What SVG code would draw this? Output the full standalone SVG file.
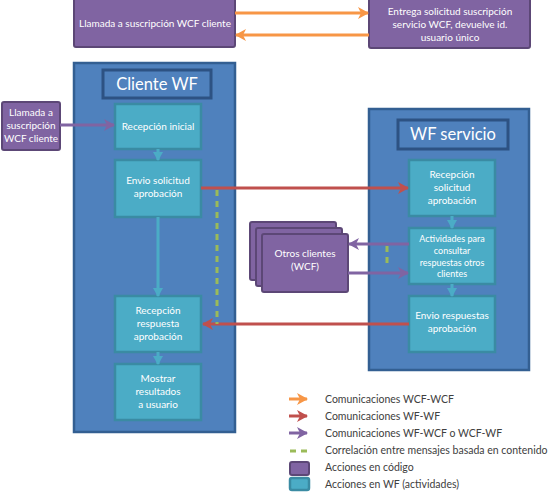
<svg xmlns="http://www.w3.org/2000/svg" width="551" height="492" viewBox="0 0 551 492">
<style>
text{font-family:"Lato","Open Sans","Liberation Sans",sans-serif;text-anchor:middle;fill:#fff;font-size:10px}
.code{fill:#8064a2;stroke:#5c4776;stroke-width:2}
.wf{fill:#4bacc6;stroke:#3a8ba3;stroke-width:2.5}
.big{fill:#4f81bd;stroke:#335f92;stroke-width:2.5}
.title{fill:#4f81bd;stroke:#2d5283;stroke-width:3}
.tt{font-size:16.5px}
.sm{font-size:9px}
.leg{fill:#404040;text-anchor:start;font-size:10.5px}
.c{fill:none;stroke-width:3}
.or{stroke:#f79646}.rd{stroke:#c0504d}.pu{stroke:#8064a2}.bl{stroke:#4bacc6}
.gr{stroke:#9bbb59;stroke-dasharray:6 5}
</style>
<defs>
<marker id="mo" markerUnits="userSpaceOnUse" markerWidth="12" markerHeight="12" refX="10" refY="6" orient="auto"><path d="M0,0 L11,6 L0,12 L3,6 Z" fill="#f79646"/></marker>
<marker id="mr" markerUnits="userSpaceOnUse" markerWidth="12" markerHeight="12" refX="10" refY="6" orient="auto"><path d="M0,0 L11,6 L0,12 L3,6 Z" fill="#c0504d"/></marker>
<marker id="mp" markerUnits="userSpaceOnUse" markerWidth="12" markerHeight="12" refX="10" refY="6" orient="auto"><path d="M0,0 L11,6 L0,12 L3,6 Z" fill="#8064a2"/></marker>
<marker id="mb" markerUnits="userSpaceOnUse" markerWidth="10" markerHeight="10" refX="8" refY="5" orient="auto"><path d="M0,0 L9,5 L0,10 Z" fill="#4bacc6"/></marker>
</defs>

<g id="top-client">
<rect class="code" x="74" y="-2" width="161" height="49" rx="2"/>
<text x="155" y="27">Llamada a suscripción WCF cliente</text>
</g>
<g id="top-service">
<rect class="code" x="369" y="-2" width="161" height="50" rx="2"/>
<text x="450" y="15">Entrega solicitud suscripción</text>
<text x="450" y="28">servicio WCF, devuelve id.</text>
<text x="450" y="41">usuario único</text>
</g>

<g id="cliente-wf">
<rect class="big" x="74" y="63" width="161" height="369"/>
<rect class="title" x="103" y="70" width="108" height="28"/>
<text class="tt" x="157" y="90">Cliente WF</text>
</g>
<g id="wf-servicio">
<rect class="big" x="369" y="109" width="160" height="261"/>
<rect class="title" x="398" y="120" width="110" height="29"/>
<text class="tt" x="453" y="140">WF servicio</text>
</g>

<g id="llamada-left">
<rect class="code" x="2" y="102" width="58" height="48" rx="2"/>
<text x="31" y="116">Llamada a</text>
<text x="31" y="129">suscripción</text>
<text x="31" y="142">WCF cliente</text>
</g>

<g id="recepcion-inicial">
<rect class="wf" x="115" y="104" width="86" height="45"/>
<text x="158" y="130">Recepción inicial</text>
</g>
<g id="envio-solicitud">
<rect class="wf" x="115" y="160" width="86" height="57"/>
<text x="158" y="184">Envio solicitud</text>
<text x="158" y="197">aprobación</text>
</g>
<g id="recepcion-respuesta">
<rect class="wf" x="115" y="296" width="86" height="56"/>
<text x="158" y="314">Recepción</text>
<text x="158" y="327">respuesta</text>
<text x="158" y="340">aprobación</text>
</g>
<g id="mostrar">
<rect class="wf" x="115" y="364" width="86" height="56"/>
<text x="158" y="382">Mostrar</text>
<text x="158" y="395">resultados</text>
<text x="158" y="408">a usuario</text>
</g>

<g id="recepcion-solicitud">
<rect class="wf" x="409" y="160" width="86" height="56"/>
<text x="452" y="178">Recepción</text>
<text x="452" y="191">solicitud</text>
<text x="452" y="204">aprobación</text>
</g>
<g id="actividades">
<rect class="wf" x="409" y="228" width="86" height="56"/>
<text class="sm" x="452" y="242">Actividades para</text>
<text class="sm" x="452" y="254">consultar</text>
<text class="sm" x="452" y="266">respuestas otros</text>
<text class="sm" x="452" y="277">clientes</text>
</g>
<g id="envio-respuestas">
<rect class="wf" x="409" y="296" width="86" height="56"/>
<text x="452" y="319">Envio respuestas</text>
<text x="452" y="332">aprobación</text>
</g>

<g id="otros-clientes">
<rect class="code" x="250" y="222" width="86" height="58" rx="2"/>
<rect class="code" x="256" y="228" width="86" height="58" rx="2"/>
<rect class="code" x="262" y="234" width="86" height="58" rx="2"/>
<text x="305" y="257">Otros clientes</text>
<text x="305" y="270">(WCF)</text>
</g>

<g id="connectors">
<line class="c or" x1="235" y1="13" x2="368" y2="13" marker-end="url(#mo)"/>
<line class="c or" x1="369" y1="35" x2="236" y2="35" marker-end="url(#mo)"/>
<line class="c pu" x1="60" y1="125" x2="114" y2="125" marker-end="url(#mp)"/>
<line class="c bl" x1="158" y1="149" x2="158" y2="160" marker-end="url(#mb)"/>
<line class="c bl" x1="158" y1="217" x2="158" y2="296" marker-end="url(#mb)"/>
<line class="c bl" x1="158" y1="352" x2="158" y2="364" marker-end="url(#mb)"/>
<line class="c bl" x1="452" y1="216" x2="452" y2="228" marker-end="url(#mb)"/>
<line class="c bl" x1="452" y1="284" x2="452" y2="296" marker-end="url(#mb)"/>
<line class="c rd" x1="201" y1="188" x2="408" y2="188" marker-end="url(#mr)"/>
<line class="c rd" x1="409" y1="324" x2="203" y2="324" marker-end="url(#mr)"/>
<line class="c pu" x1="409" y1="244" x2="349" y2="244" marker-end="url(#mp)"/>
<line class="c pu" x1="348" y1="273" x2="408" y2="273" marker-end="url(#mp)"/>
<line class="c gr" x1="217" y1="190" x2="217" y2="324"/>
<line class="c gr" x1="387" y1="246" x2="387" y2="268"/>
</g>

<g id="legend">
<line class="c or" x1="289" y1="399" x2="307" y2="399" stroke-width="4" marker-end="url(#mo)"/>
<line class="c rd" x1="289" y1="416" x2="307" y2="416" stroke-width="4" marker-end="url(#mr)"/>
<line class="c pu" x1="289" y1="433" x2="307" y2="433" stroke-width="4" marker-end="url(#mp)"/>
<line class="c gr" x1="290" y1="451" x2="308" y2="451" stroke-dasharray="7 5"/>
<rect class="code" x="290" y="462" width="19" height="13" rx="2"/>
<rect class="wf" x="290" y="478" width="19" height="12" rx="2"/>
<text class="leg" x="325" y="403">Comunicaciones WCF-WCF</text>
<text class="leg" x="325" y="420">Comunicaciones WF-WF</text>
<text class="leg" x="325" y="437">Comunicaciones WF-WCF o WCF-WF</text>
<text class="leg" x="325" y="454">Correlación entre mensajes basada en contenido</text>
<text class="leg" x="325" y="471">Acciones en código</text>
<text class="leg" x="325" y="488">Acciones en WF (actividades)</text>
</g>
</svg>
